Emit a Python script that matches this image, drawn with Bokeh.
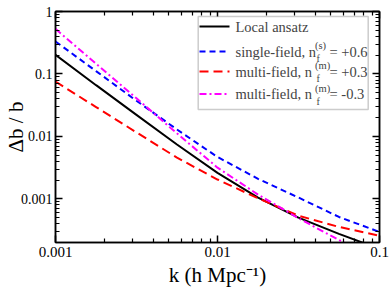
from bokeh.plotting import figure
from bokeh.models import (Range1d, LogAxis, FixedTicker, CustomJSTickFormatter,
                          Label, BoxAnnotation, Arrow)
from bokeh.embed import file_html
from bokeh.resources import INLINE

# ---- data ----
k = [0.001, 0.00178, 0.00316, 0.00562, 0.01, 0.0178, 0.0316, 0.0562, 0.1]
local_ansatz = [0.202, 0.0661, 0.0221, 0.00741, 0.0026, 0.00105, 0.000501, 0.000275, 0.000158]
single_field_p06 = [0.331, 0.111, 0.0372, 0.0129, 0.00468, 0.00209, 0.00105, 0.000513, 0.000295]
multi_field_p03 = [0.0753, 0.0295, 0.0116, 0.00457, 0.00204, 0.00102, 0.000537, 0.000355, 0.000257]
multi_field_m03 = [0.527, 0.146, 0.0407, 0.0112, 0.00316, 0.00117, 0.00049, 0.000219, 0.000105]

x_major = [0.001, 0.01, 0.1]
x_labels = ["0.001", "0.01", "0.1"]
y_major = [0.001, 0.01, 0.1, 1]
y_labels = ["0.001", "0.01", "0.1", "1"]
mantissas = [2, 3, 4, 5, 6, 7, 8, 9]
x_minor = [m * d for d in [0.001, 0.01] for m in mantissas]
y_minor = [m * d for d in [0.0001, 0.001, 0.01, 0.1] for m in mantissas]

FONT = "Liberation Serif"

p = figure(width=391, height=290, x_axis_type="log", y_axis_type="log",
           x_range=Range1d(0.001, 0.1), y_range=Range1d(2e-4, 1),
           output_backend="svg", toolbar_location=None,
           min_border_left=48, min_border_right=12, min_border_top=11, min_border_bottom=48)
p.xgrid.visible = False
p.ygrid.visible = False
p.outline_line_color = "black"
p.outline_line_width = 1.5
p.background_fill_color = "white"
p.border_fill_color = "white"

def fmt(ticks, labels):
    return CustomJSTickFormatter(args=dict(tv=ticks, lab=labels), code="""
        for (let i = 0; i < tv.length; i++) {
            if (Math.abs(Math.log10(tv[i]) - Math.log10(tick)) < 1e-6) return lab[i];
        }
        return "";""")

def style(ax, size):
    ax.axis_line_width = 1.5
    ax.major_tick_in = 7
    ax.major_tick_out = 0
    ax.minor_tick_in = 4
    ax.minor_tick_out = 0
    ax.major_tick_line_width = 1.5
    ax.minor_tick_line_width = 1.2
    ax.major_label_text_font = FONT
    ax.major_label_text_font_size = size
    ax.major_label_text_color = "black"
    ax.axis_label_text_font = FONT
    ax.axis_label_text_font_style = "normal"
    ax.axis_label_text_color = "black"

xt = FixedTicker(ticks=x_major, minor_ticks=x_minor)
yt = FixedTicker(ticks=y_major, minor_ticks=y_minor)

xa = p.xaxis[0]
xa.ticker = xt
xa.formatter = fmt(x_major, x_labels)
style(xa, "15px")
xa.major_label_standoff = 4
xa.axis_label = "k (h Mpc\u207b\u00b9)"
xa.axis_label_text_font_size = "21px"
xa.axis_label_standoff = 3

ya = p.yaxis[0]
ya.ticker = yt
ya.formatter = fmt(y_major, y_labels)
style(ya, "14px")
ya.major_label_standoff = 3
ya.axis_label = "\u0394b / b"
ya.axis_label_text_font_size = "21px"
ya.axis_label_standoff = -10

top = LogAxis(ticker=xt, formatter=CustomJSTickFormatter(code="return ''"))
style(top, "0px")
top.major_label_standoff = 0
top.axis_label_standoff = 0
p.add_layout(top, "above")
right = LogAxis(ticker=yt, formatter=CustomJSTickFormatter(code="return ''"))
style(right, "0px")
right.major_label_standoff = 0
right.axis_label_standoff = 0
p.add_layout(right, "right")

# ---- curves ----
p.line(k, local_ansatz, line_color="black", line_width=2)
p.line(k, single_field_p06, line_color="#0000ff", line_width=2, line_dash="6 4")
p.line(k, multi_field_p03, line_color="#ff0000", line_width=2, line_dash="9 5")
p.line(k, multi_field_m03, line_color="#ff00ff", line_width=2, line_dash="7 3 2 3")

# ---- legend (drawn by hand to allow super/subscripts) ----
p.add_layout(BoxAnnotation(left=142.7, right=312.7, bottom=133, top=226,
                           left_units="screen", right_units="screen",
                           bottom_units="screen", top_units="screen",
                           fill_color="white", fill_alpha=1.0,
                           line_color="#555555", line_width=1.5))

rows = [
    dict(y=216, color="black", dash="solid", main="Local ansatz"),
    dict(y=191, color="#0000ff", dash="6 4", main="single-field, n", sup="(s)", rest="= +0.6"),
    dict(y=171, color="#ff0000", dash="9 5", main="multi-field, n", sup="(m)", rest="= +0.3"),
    dict(y=148.5, color="#ff00ff", dash="7 3 2 3", main="multi-field, n", sup="(m)", rest="= -0.3"),
]
for r in rows:
    p.add_layout(Arrow(end=None, x_start=144, y_start=r["y"], x_end=174, y_end=r["y"],
                       start_units="screen", end_units="screen",
                       line_color=r["color"], line_width=2, line_dash=r["dash"]))
    p.add_layout(Label(x=180, y=r["y"], x_units="screen", y_units="screen", text=r["main"],
                       text_font=FONT, text_font_size="14.5px", text_baseline="middle"))
    if "sup" in r:
        p.add_layout(Label(x=259.5, y=r["y"] + 6, x_units="screen", y_units="screen", text=r["sup"],
                           text_font=FONT, text_font_size="10.5px", text_baseline="middle"))
        p.add_layout(Label(x=261, y=r["y"] - 7, x_units="screen", y_units="screen", text="f",
                           text_font=FONT, text_font_size="10px", text_baseline="middle"))
        p.add_layout(Label(x=274, y=r["y"], x_units="screen", y_units="screen", text=r["rest"],
                           text_font=FONT, text_font_size="14.5px", text_baseline="middle"))

open("out.html", "w").write(file_html(p, INLINE))
